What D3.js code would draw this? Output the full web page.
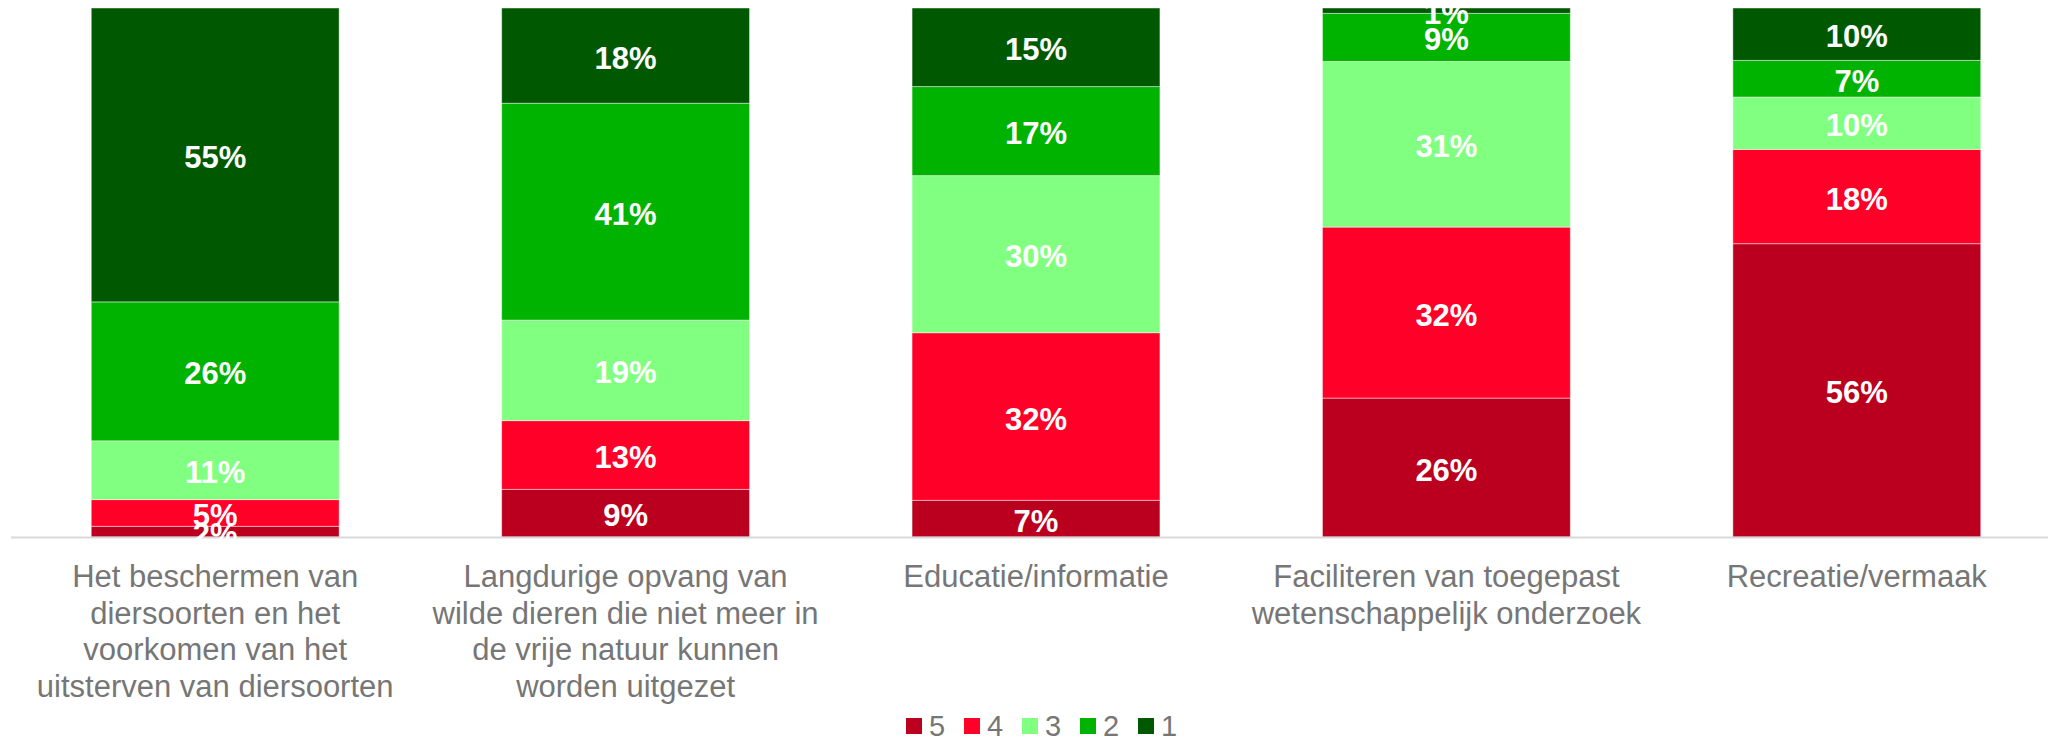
<!DOCTYPE html>
<html lang="nl">
<head>
<meta charset="utf-8">
<script src="https://d3js.org/d3.v7.min.js"></script>
<style>
  body { margin: 0; background: #fff; }
  text { font-family: Arial, "Liberation Sans", sans-serif; }
</style>
</head>
<body>
<script>
// categories, wrapped the way the original chart wraps them
var categories = [
  ["Het beschermen van", "diersoorten en het", "voorkomen van het", "uitsterven van diersoorten"],
  ["Langdurige opvang van", "wilde dieren die niet meer in", "de vrije natuur kunnen", "worden uitgezet"],
  ["Educatie/informatie"],
  ["Faciliteren van toegepast", "wetenschappelijk onderzoek"],
  ["Recreatie/vermaak"]
];

// scores 5 (bottom) up to 1 (top), percentages per category
var keys = ["5", "4", "3", "2", "1"];
var score5 = [2, 9, 7, 26, 56];
var score4 = [5, 13, 32, 32, 18];
var score3 = [11, 19, 30, 31, 10];
var score2 = [26, 41, 17, 9, 7];
var score1 = [55, 18, 15, 1, 10];

var colors = ["#BA001E", "#FF0029", "#80FF80", "#00B300", "#005900"];

var width = 2048, height = 738;

var svg = d3.select("body").append("svg")
    .attr("width", width)
    .attr("height", height);

// table for d3.stack
var rows = categories.map(function(c, i) {
  return { idx: i, "5": score5[i], "4": score4[i], "3": score3[i], "2": score2[i], "1": score1[i] };
});

var series = d3.stack().keys(keys).offset(d3.stackOffsetExpand)(rows);

var x = d3.scaleBand()
    .domain(d3.range(categories.length))
    .range([10, 2062])
    .paddingInner(0.396)
    .paddingOuter(0.198);

var y = d3.scaleLinear()
    .domain([0, 1])
    .range([537, 8]);

var color = d3.scaleOrdinal().domain(keys).range(colors);

// bars
var groups = svg.append("g").selectAll("g")
    .data(series)
    .join("g")
    .attr("fill", function(d) { return color(d.key); });

groups.selectAll("rect")
    .data(function(d) { return d; })
    .join("rect")
    .attr("x", function(d) { return x(d.data.idx); })
    .attr("y", function(d) { return y(d[1]); })
    .attr("width", x.bandwidth())
    .attr("height", function(d) { return y(d[0]) - y(d[1]); })
    .attr("stroke", "rgba(255,255,255,0.45)")
    .attr("stroke-width", 1);

// axis line
svg.append("line")
    .attr("x1", 11).attr("x2", width)
    .attr("y1", y(0) + 0.5).attr("y2", y(0) + 0.5)
    .attr("stroke", "#D9D9D9")
    .attr("stroke-width", 2);

// value labels
series.forEach(function(s) {
  svg.append("g").selectAll("text")
    .data(s)
    .join("text")
    .attr("x", function(d) { return x(d.data.idx) + x.bandwidth() / 2; })
    .attr("y", function(d) { return (y(d[0]) + y(d[1])) / 2; })
    .attr("dy", "0.42em")
    .attr("text-anchor", "middle")
    .attr("fill", "#fff")
    .attr("font-weight", "bold")
    .attr("font-size", "31px")
    .text(function(d) { return d.data[s.key] + "%"; });
});

// category labels
var catG = svg.append("g").selectAll("text")
    .data(categories)
    .join("text")
    .attr("text-anchor", "middle")
    .attr("fill", "#767676")
    .attr("font-size", "31px")
    .attr("x", function(d, i) { return x(i) + x.bandwidth() / 2; })
    .attr("y", 587);

catG.selectAll("tspan")
    .data(function(d) { return d; })
    .join("tspan")
    .attr("x", function() { return d3.select(this.parentNode).attr("x"); })
    .attr("dy", function(d, i) { return i === 0 ? 0 : 36.5; })
    .text(function(d) { return d; });

// legend
var legend = svg.append("g").selectAll("g")
    .data(keys)
    .join("g")
    .attr("transform", function(d, i) { return "translate(" + (906 + i * 58) + ",718)"; });

legend.append("rect")
    .attr("width", 16)
    .attr("height", 16)
    .attr("fill", function(d) { return color(d); });

legend.append("text")
    .attr("x", 23)
    .attr("y", 8)
    .attr("dy", "0.36em")
    .attr("fill", "#767676")
    .attr("font-size", "29px")
    .text(function(d) { return d; });
</script>
</body>
</html>
